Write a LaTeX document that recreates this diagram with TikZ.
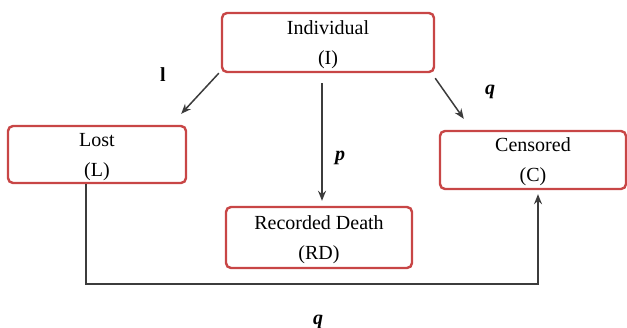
\documentclass[tikz,border=0pt]{standalone}
\usepackage{fontspec}
\setmainfont{Liberation Serif}
\usetikzlibrary{arrows.meta}
\definecolor{boxred}{RGB}{200,70,70}
\definecolor{linegray}{RGB}{60,60,60}

\begin{document}
\begin{tikzpicture}[x=1pt,y=1pt,>={Stealth[length=5pt,width=4pt]},
    box/.style={draw=boxred,line width=1.2pt,rounded corners=2.5pt,align=center,
        font=\fontsize{10}{15}\selectfont,inner sep=0pt},
    flow/.style={->,draw=linegray,line width=0.75pt},
    lbl/.style={font=\fontsize{10}{12}\selectfont\bfseries}]
        \useasboundingbox (0,0) rectangle (313.5,-163.5);
        \node[box,minimum width=106pt,minimum height=29.5pt] (I) at (164,-21.25) {\rule{0pt}{9pt}Individual\\(I)};
        \node[box,minimum width=89pt,minimum height=28.5pt] (L) at (48.5,-77.25) {\rule{0pt}{9pt}Lost\\(L)};
        \node[box,minimum width=93pt,minimum height=29pt] (C) at (266.5,-80) {\rule{0pt}{9pt}Censored\\(C)};
        \node[box,minimum width=93pt,minimum height=30.5pt] (RD) at (159.5,-118.75) {\rule{0pt}{9pt}Recorded Death\\(RD)};

        \node[lbl] (l) at (81.5,-37.5) {l};
        \node[lbl] (q1) at (245,-46) {\textit{q}};
        \node[lbl] (p) at (170,-79) {\textit{p}};
        \node[lbl] (q2) at (159,-161) {\textit{q}};

        \draw[flow] ([xshift=-1pt]I.south west) -- ([xshift=-3pt,yshift=5.5pt]L.north east);
        \draw[flow] ([yshift=-2.5pt]I.south east) -- ([xshift=12.5pt,yshift=5.5pt]C.north west);
        \draw[flow] ([xshift=-3pt,yshift=-5pt]I.south) -- ([xshift=-3pt,yshift=2.5pt]I.south |- RD.north);
        \draw[flow] ([xshift=-5.5pt]L.south) -- ++(0,-50pt) -| ([xshift=2.5pt,yshift=-2pt]C.south);
    \end{tikzpicture}
\end{document}
